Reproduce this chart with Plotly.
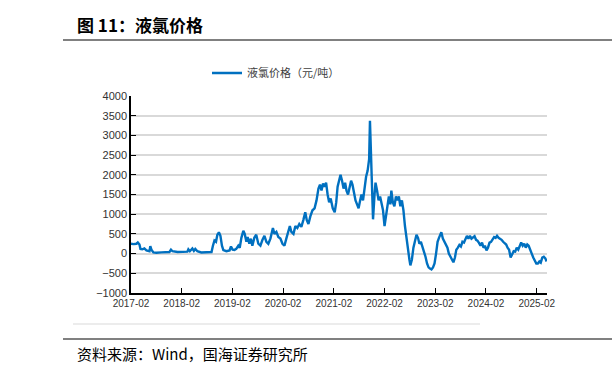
import plotly.graph_objects as go

dates = [
"2017-02-01","2017-02-20","2017-03-12","2017-03-22","2017-04-03","2017-04-10","2017-04-24","2017-05-08","2017-05-23","2017-06-14",
"2017-06-20","2017-06-28","2017-07-12","2017-08-03","2017-09-08","2017-10-15","2017-11-05","2017-11-16","2017-11-27","2018-01-02",
"2018-02-08","2018-03-14","2018-03-21","2018-04-01","2018-04-19","2018-04-30","2018-05-10","2018-05-25","2018-06-22","2018-07-28",
"2018-09-04","2018-09-14","2018-09-25","2018-10-06","2018-10-16","2018-10-27","2018-11-07","2018-11-18","2018-11-28","2018-12-20",
"2019-01-12","2019-01-22","2019-02-03","2019-02-16","2019-03-01","2019-03-16","2019-03-26","2019-04-07","2019-04-21","2019-05-01",
"2019-05-13","2019-05-22","2019-06-03","2019-06-14","2019-06-25","2019-07-09","2019-07-23","2019-08-07","2019-08-22","2019-09-06",
"2019-09-20","2019-10-04","2019-10-18","2019-11-02","2019-11-20","2019-12-01","2019-12-15","2019-12-29","2020-01-13","2020-01-28",
"2020-02-11","2020-02-26","2020-03-10","2020-03-21","2020-04-01","2020-04-16","2020-04-30","2020-05-14","2020-05-28","2020-06-12",
"2020-06-26","2020-07-10","2020-07-21","2020-08-02","2020-08-16","2020-08-31","2020-09-15","2020-09-29","2020-10-13","2020-10-24",
"2020-11-04","2020-11-15","2020-11-26","2020-12-07","2020-12-18","2020-12-29","2021-01-09","2021-01-24","2021-02-07","2021-02-18",
"2021-02-28","2021-03-10","2021-03-21","2021-04-01","2021-04-12","2021-04-23","2021-05-03","2021-05-14","2021-05-25","2021-06-05",
"2021-06-15","2021-06-26","2021-07-07","2021-07-18","2021-07-29","2021-08-09","2021-08-19","2021-08-30","2021-09-10","2021-09-21",
"2021-10-02","2021-10-13","2021-10-19","2021-10-26","2021-11-03","2021-11-10","2021-11-21","2021-11-28","2021-12-09","2021-12-20",
"2021-12-31","2022-01-11","2022-01-21","2022-02-01","2022-02-12","2022-02-23","2022-03-04","2022-03-15","2022-03-22","2022-04-02",
"2022-04-13","2022-04-24","2022-05-04","2022-05-15","2022-05-26","2022-06-06","2022-06-17","2022-06-28","2022-07-09","2022-07-20",
"2022-07-30","2022-08-06","2022-08-17","2022-08-28","2022-09-08","2022-09-19","2022-09-30","2022-10-10","2022-10-21","2022-11-01",
"2022-11-12","2022-11-23","2022-12-04","2022-12-15","2022-12-25","2023-01-05","2023-01-16","2023-01-27","2023-02-07","2023-02-18",
"2023-02-28","2023-03-11","2023-03-17","2023-03-28","2023-04-08","2023-04-19","2023-04-30","2023-05-10","2023-05-21","2023-06-01",
"2023-06-12","2023-06-23","2023-07-03","2023-07-14","2023-07-25","2023-08-05","2023-08-16","2023-08-27","2023-09-07","2023-09-17",
"2023-09-28","2023-10-09","2023-10-20","2023-10-31","2023-11-11","2023-11-22","2023-12-02","2023-12-13","2023-12-24","2024-01-04",
"2024-01-15","2024-01-25","2024-02-05","2024-02-16","2024-02-27","2024-03-09","2024-03-20","2024-03-31","2024-04-11","2024-04-21",
"2024-05-02","2024-05-13","2024-05-24","2024-06-04","2024-06-15","2024-06-26","2024-07-06","2024-07-17","2024-07-28","2024-08-08",
"2024-08-19","2024-08-30","2024-09-10","2024-09-21","2024-10-01","2024-10-12","2024-10-23","2024-11-03","2024-11-14","2024-11-25",
"2024-12-05","2024-12-16","2024-12-27","2025-01-07","2025-01-18","2025-01-29","2025-02-09","2025-02-20","2025-03-02","2025-03-13",
"2025-03-24","2025-04-04","2025-04-13",
]

prices = [
250,240,250,280,230,120,110,130,80,60,
190,100,30,20,30,30,40,100,60,40,
40,50,110,60,130,70,120,60,30,30,
40,200,330,300,480,540,450,200,90,60,
80,180,100,90,120,200,150,400,580,500,
300,420,250,380,200,400,480,250,200,350,
450,300,250,380,650,500,550,420,380,250,
200,400,600,700,550,500,700,650,750,680,
850,1050,850,750,950,1100,1150,1350,1650,1750,
1600,1780,1700,1800,1500,1300,1400,1150,1050,1300,
1700,1850,2000,1850,1650,1800,1600,1500,1700,1850,
1750,1500,1350,1250,1150,1350,1500,1350,1700,1950,
2100,2400,3370,2400,1700,870,1500,1800,1600,1350,
1450,1300,1100,700,1000,1300,1450,1250,1600,1300,
1200,1450,1350,1450,1200,1350,1100,700,350,50,
-150,-300,-150,150,350,480,400,250,300,180,
100,-80,-250,-350,-380,-400,-350,-250,0,300,
400,480,540,380,300,200,150,0,-80,-150,
-220,-100,100,150,220,180,300,280,400,450,
380,450,380,420,440,350,330,270,200,280,
150,200,80,150,280,300,350,420,400,450,
400,380,350,300,250,230,150,100,-100,0,
60,50,150,100,180,280,200,250,150,230,
200,120,0,-100,-200,-250,-250,-200,-230,-100,
-80,-120,-200,
]

tick_dates = ["2017-02-01","2018-02-01","2019-02-01","2020-02-01","2021-02-01",
              "2022-02-01","2023-02-01","2024-02-01","2025-02-01"]
tick_labels = ["2017-02","2018-02","2019-02","2020-02","2021-02",
               "2022-02","2023-02","2024-02","2025-02"]
y_ticks = [-1000,-500,0,500,1000,1500,2000,2500,3000,3500,4000]
y_labels = ["−1000","−500","0","500","1000","1500","2000","2500","3000","3500","4000"]
series_name = "液氯价格（元/吨）"

fig = go.Figure()
fig.add_trace(go.Scatter(x=dates, y=prices, mode="lines", name=series_name,
                         line=dict(color="#0070C0", width=2.4)))

L, R, T, B = 131, 65, 96, 82
W = 612 - L - R
H = 375 - T - B
def px(xp):
    return (xp - L) / W
def py(yp):
    return (375 - B - yp) / H

fig.update_layout(
    width=612, height=375,
    margin=dict(l=L, r=R, t=T, b=B),
    paper_bgcolor="white", plot_bgcolor="white",
    showlegend=True,
    legend=dict(x=px(207), y=py(73), xanchor="left", yanchor="middle",
                orientation="h", font=dict(family="Noto Sans CJK SC", size=11, color="#404040"),
                bgcolor="rgba(0,0,0,0)", itemwidth=30),
    xaxis=dict(type="date", range=["2017-02-01", "2025-04-16"],
               tickvals=tick_dates, ticktext=tick_labels,
               ticks="inside", ticklen=5, tickcolor="black", tickwidth=1,
               showline=True, linecolor="black", linewidth=1.5,
               showgrid=False, zeroline=False,
               tickfont=dict(family="Liberation Sans", size=10, color="#333333")),
    yaxis=dict(range=[-1000, 4000], tickvals=y_ticks, ticktext=y_labels,
               ticks="inside", ticklen=5, tickcolor="black", tickwidth=1,
               showline=True, linecolor="black", linewidth=1.5,
               showgrid=True, gridcolor="#D9D9D9", gridwidth=1.5, zeroline=False,
               tickfont=dict(family="Liberation Sans", size=11, color="#333333")),
)

shapes = [
    dict(type="line", xref="paper", yref="paper", x0=px(63), x1=px(612), y0=py(40), y1=py(40),
         line=dict(color="#808080", width=2)),
    dict(type="line", xref="paper", yref="paper", x0=px(63), x1=px(612), y0=py(339), y1=py(339),
         line=dict(color="#808080", width=2)),
    dict(type="line", xref="paper", yref="paper", x0=px(73), x1=px(480), y0=py(324), y1=py(324),
         line=dict(color="#D9D9D9", width=1)),
]
fig.update_layout(shapes=shapes)

fig.add_annotation(x=px(75), y=py(25), xref="paper", yref="paper", xanchor="left", yanchor="middle",
                   text="<b>图 11：液氯价格</b>", showarrow=False,
                   font=dict(family="Noto Sans CJK SC", size=17, color="black"))
fig.add_annotation(x=px(75), y=py(353), xref="paper", yref="paper", xanchor="left", yanchor="middle",
                   text="资料来源：Wind，国海证券研究所", showarrow=False,
                   font=dict(family="Noto Sans CJK SC", size=15, color="black"))

fig.write_html("out.html", config={"displayModeBar": False},
               post_script="document.body.style.margin='0';document.body.style.padding='0';")
